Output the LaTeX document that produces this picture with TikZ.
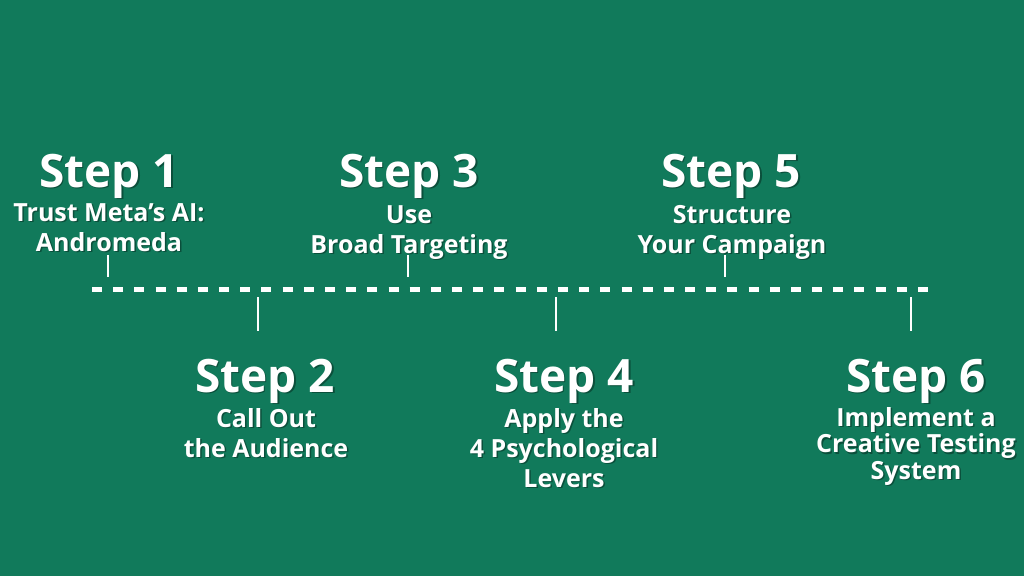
\documentclass[tikz,border=0pt]{standalone}
\usepackage{fontspec}
\setmainfont{Open Sans}
\definecolor{board}{HTML}{117A5B}
\tikzset{
	steptitle/.style={font=\bfseries\fontsize{46}{50}\selectfont,text=white,anchor=base,inner sep=0pt},
	stepnote/.style={font=\bfseries\fontsize{25}{30}\selectfont,text=white,align=center,anchor=base,inner sep=0pt},
	tick/.style={white,line width=2pt},
}
% name, position (last line's baseline), style, text -- white text with a soft dark shadow
\newcommand\shadowtext[4]{%
	\node[#3,text=black,opacity=.35] at ([shift={(1.5,1.5)}]#2) {#4};
	\node[#3] (#1) at (#2) {#4};}
\begin{document}
\begin{tikzpicture}[x=1pt,y=-1pt]
	\fill[board](0,0)rectangle(1024,576);
	\draw[white,line width=5pt,dash pattern=on 10pt off 11.18pt](92,289)--(928,289);
	\draw[tick](108,255)--(108,277) (408,255)--(408,277) (725,255)--(725,277);
	\draw[tick](258,297)--(258,331) (556,297)--(556,331) (911,297)--(911,331);
	\shadowtext{s1}{109,187}{steptitle}{Step 1}
	\shadowtext{s3}{409,187}{steptitle}{Step 3}
	\shadowtext{s5}{731,187}{steptitle}{Step 5}
	\shadowtext{s2}{265,392}{steptitle}{Step 2}
	\shadowtext{s4}{564,392}{steptitle}{Step 4}
	\shadowtext{s6}{916,392}{steptitle}{Step 6}
	\shadowtext{d1}{109,251}{stepnote}{Trust Meta’s AI:\\Andromeda}
	\shadowtext{d3}{409,253}{stepnote}{Use\\Broad Targeting}
	\shadowtext{d5}{732,253}{stepnote}{Structure\\Your Campaign}
	\shadowtext{d2}{266,457}{stepnote}{Call Out\\the Audience}
	\shadowtext{d4}{564,487}{stepnote}{Apply the\\4 Psychological\\Levers}
	\shadowtext{d6}{916,479}{stepnote,font=\bfseries\fontsize{25}{26.5}\selectfont}{Implement a\\Creative Testing\\System}
\end{tikzpicture}
\end{document}
